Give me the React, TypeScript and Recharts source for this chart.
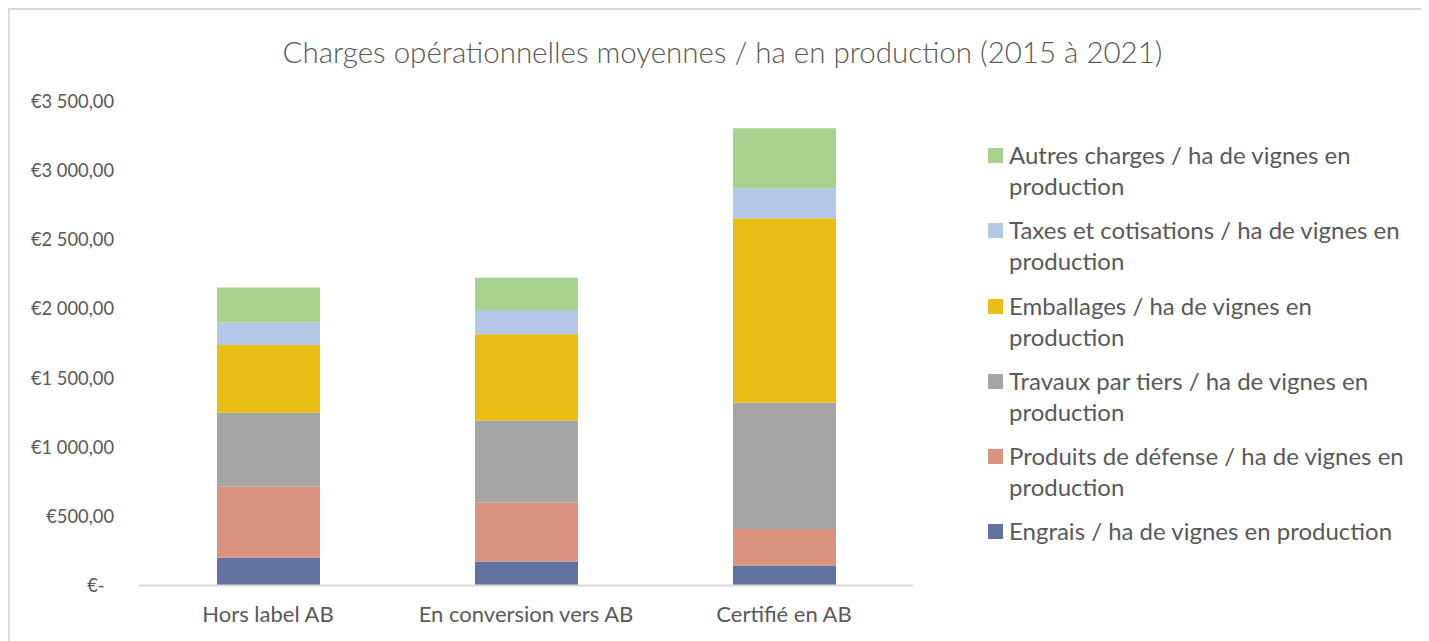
import { BarChart, Bar, XAxis, YAxis } from 'recharts';

const categories = ['Hors label AB', 'En conversion vers AB', 'Certifié en AB'];

const engrais = [200, 172, 143];
const produits = [517, 430, 266];
const travaux = [532, 591, 915];
const emballages = [490, 623, 1331];
const taxes = [162, 177, 217];
const autres = [254, 232, 435];

const yTicks = [0, 500, 1000, 1500, 2000, 2500, 3000, 3500];

const series = [
    { key: 'engrais', name: 'Engrais / ha de vignes en production', values: engrais, color: '#6072a0' },
    { key: 'produits', name: 'Produits de défense / ha de vignes en production', values: produits, color: '#d9937e' },
    { key: 'travaux', name: 'Travaux par tiers / ha de vignes en production', values: travaux, color: '#a5a5a5' },
    { key: 'emballages', name: 'Emballages / ha de vignes en production', values: emballages, color: '#e9bd13' },
    { key: 'taxes', name: 'Taxes et cotisations / ha de vignes en production', values: taxes, color: '#b4c7e7' },
    { key: 'autres', name: 'Autres charges / ha de vignes en production', values: autres, color: '#a9d18e' },
];

const data = categories.map((name, i) => {
    const row: any = { name };
    series.forEach((s) => {
        row[s.key] = s.values[i];
    });
    return row;
});

const FONT = 'Lato, "Open Sans", sans-serif';
const TEXT = '#595959';

const formatEuro = (v: number) => {
    if (v === 0) return '€-\u00A0\u00A0';
    const s = String(v).replace(/\B(?=(\d{3})+(?!\d))/g, ' ');
    return '€' + s + ',00';
};

// legend drawn from the series list, top entry = last series (like Excel)
const ChartLegend = () => (
    <div
        style={{
            position: 'absolute',
            left: 978,
            top: 129,
            fontFamily: FONT,
            fontSize: 24,
            color: TEXT,
        }}
    >
        {[...series].reverse().map((s) => (
            <div key={s.key} style={{ display: 'flex', alignItems: 'flex-start', height: 75.3 }}>
                <div
                    style={{
                        width: 15,
                        height: 15,
                        background: s.color,
                        marginTop: 9,
                        marginRight: 6,
                        flex: 'none',
                    }}
                />
                <div style={{ width: 404, lineHeight: '31px' }}>{s.name}</div>
            </div>
        ))}
    </div>
);

const App = () => {
    return (
        <div
            style={{
                position: 'relative',
                width: 1421,
                height: 640,
                borderTop: '2px solid #d9d9d9',
                borderLeft: '2px solid #d9d9d9',
                borderRight: '2px solid #d9d9d9',
                boxSizing: 'border-box',
                background: '#fff',
            }}
        >
            <div
                style={{
                    position: 'absolute',
                    top: 24,
                    left: 0,
                    width: 1425,
                    textAlign: 'center',
                    fontFamily: FONT,
                    fontWeight: 300,
                    fontSize: 29.5,
                    color: TEXT,
                }}
            >
                Charges opérationnelles moyennes / ha en production (2015 à 2021)
            </div>
            <BarChart
                width={1417}
                height={631}
                data={data}
                margin={{ top: 91.5, right: 514, left: 0, bottom: 25.5 }}
                barSize={103}
            >
                <XAxis
                    dataKey="name"
                    axisLine={{ stroke: '#d9d9d9', strokeWidth: 2 }}
                    tickLine={false}
                    tickSize={0}
                    tickMargin={21}
                    tick={{ fill: TEXT, fontSize: 22, fontFamily: FONT }}
                />
                <YAxis
                    width={129}
                    domain={[0, 3500]}
                    ticks={yTicks}
                    axisLine={false}
                    tickLine={false}
                    tickSize={0}
                    tickMargin={25}
                    tickFormatter={formatEuro}
                    tick={{ fill: TEXT, fontSize: 18.3, fontFamily: FONT }}
                />
                {series.map((s) => (
                    <Bar
                        key={s.key}
                        dataKey={s.key}
                        name={s.name}
                        stackId="a"
                        fill={s.color}
                        isAnimationActive={false}
                    />
                ))}
            </BarChart>
            <ChartLegend />
        </div>
    );
};

export default App;
